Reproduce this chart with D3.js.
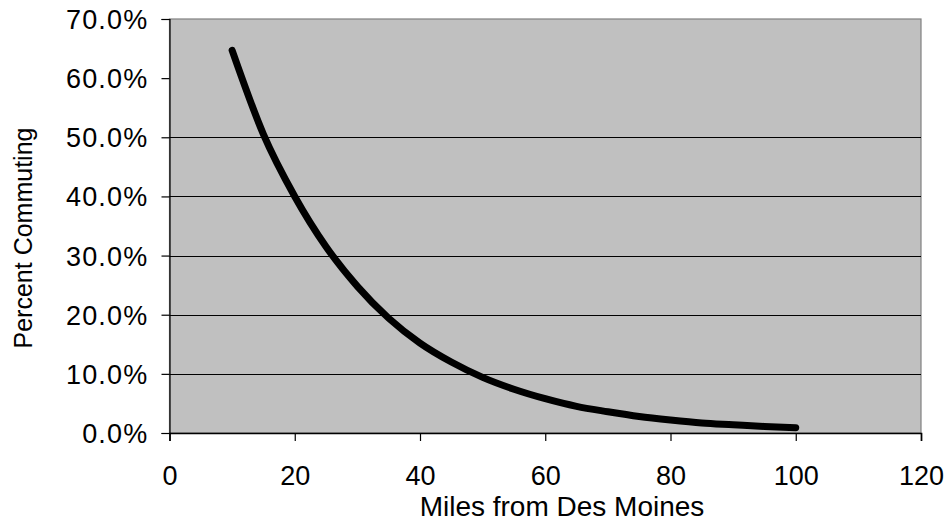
<!DOCTYPE html>
<html>
<head>
<meta charset="utf-8">
<script src="https://cdn.jsdelivr.net/npm/d3@7/dist/d3.min.js"></script>
<style>
  html, body { margin: 0; padding: 0; background: #fff; }
  svg { display: block; }
  text { font-family: "Liberation Sans", Arial, sans-serif; fill: #000; }
</style>
</head>
<body>
<svg id="chart" width="948" height="521"></svg>
<script>
// Data
const miles = [10, 15, 20, 25, 30, 35, 40, 45, 50, 55, 60, 65, 70, 75, 80, 85, 90, 95, 100];
const percentCommuting = [0.647, 0.505, 0.400, 0.315, 0.248, 0.194, 0.152, 0.120, 0.094, 0.074, 0.058, 0.045, 0.036, 0.028, 0.022, 0.017, 0.014, 0.011, 0.009];
const xTicks = [0, 20, 40, 60, 80, 100, 120];
const yTicks = [0, 0.1, 0.2, 0.3, 0.4, 0.5, 0.6, 0.7];
const yGridValues = [0.1, 0.2, 0.3, 0.4, 0.5];
const xTitle = "Miles from Des Moines";
const yTitle = "Percent Commuting";

const svg = d3.select("#chart");
const plotLeft = 169.5, plotRight = 921, plotTop = 19, plotBottom = 433;

const x = d3.scaleLinear().domain([0, 120]).range([plotLeft, plotRight]);
const y = d3.scaleLinear().domain([0, 0.7]).range([plotBottom, plotTop]);

// plot area background
svg.append("rect")
  .attr("x", plotLeft).attr("y", plotTop)
  .attr("width", plotRight - plotLeft).attr("height", plotBottom - plotTop)
  .attr("fill", "#c0c0c0")
  .attr("stroke", "#808080").attr("stroke-width", 1.2);

// gridlines
svg.append("g").selectAll("line").data(yGridValues).join("line")
  .attr("x1", plotLeft).attr("x2", plotRight)
  .attr("y1", d => Math.round(y(d)) + 0.5).attr("y2", d => Math.round(y(d)) + 0.5)
  .attr("stroke", "#000").attr("stroke-width", 1);

// y axis
const yAxis = d3.axisLeft(y).tickValues(yTicks).tickSize(8).tickPadding(13)
  .tickFormat(d3.format(".1%"));
const gy = svg.append("g").attr("transform", `translate(${plotLeft},0)`).call(yAxis);
gy.select(".domain").attr("stroke", "#000").attr("stroke-width", 1.2);
gy.selectAll(".tick line").attr("stroke", "#000").attr("stroke-width", 1.2);
gy.selectAll(".tick text")
  .attr("font-size", 27).attr("dy", "0.35em")
  .style("letter-spacing", "1.2px")
  .style("font-family", "'Liberation Sans', Arial, sans-serif");

// x axis
const xAxis = d3.axisBottom(x).tickValues(xTicks).tickSize(8).tickPadding(25)
  .tickFormat(d3.format("d"));
const gx = svg.append("g").attr("transform", `translate(0,${plotBottom})`).call(xAxis);
gx.select(".domain").attr("stroke", "#000").attr("stroke-width", 1.6);
gx.selectAll(".tick line").attr("stroke", "#000").attr("stroke-width", 1.2);
gx.selectAll(".tick text")
  .attr("font-size", 27).attr("dy", "0.71em")
  .style("font-family", "'Liberation Sans', Arial, sans-serif");

// curve
const line = d3.line()
  .x((d, i) => x(miles[i]))
  .y(d => y(d))
  .curve(d3.curveMonotoneX);
svg.append("path")
  .datum(percentCommuting)
  .attr("d", line)
  .attr("fill", "none")
  .attr("stroke", "#000")
  .attr("stroke-width", 7)
  .attr("stroke-linecap", "round")
  .attr("stroke-linejoin", "round");

// axis titles
svg.append("text")
  .attr("x", 562).attr("y", 516)
  .attr("text-anchor", "middle")
  .attr("font-size", 28)
  .text(xTitle);

svg.append("text")
  .attr("transform", "translate(32,238) rotate(-90)")
  .attr("text-anchor", "middle")
  .attr("font-size", 25)
  .text(yTitle);
</script>
</body>
</html>
